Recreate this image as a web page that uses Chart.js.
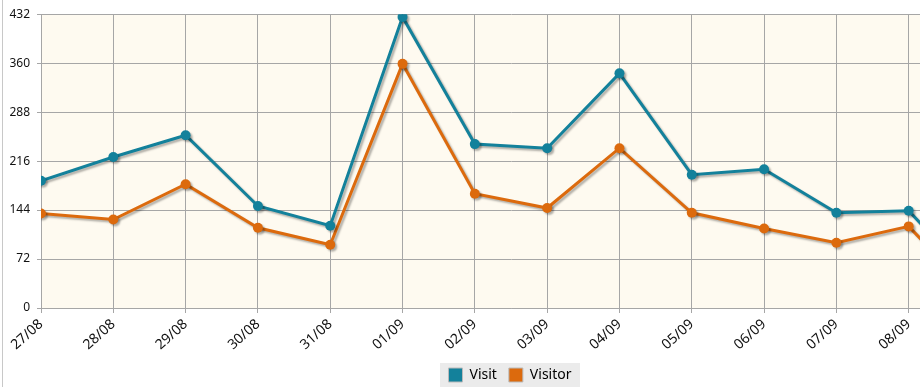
<!DOCTYPE html>
<html>
<head>
<meta charset="utf-8">
<script src="https://cdn.jsdelivr.net/npm/chart.js@4"></script>
<style>
    body { margin: 0; background: #fff; width: 920px; height: 387px; overflow: hidden; position: relative; }
    #edge { position: absolute; left: 2px; top: 0; width: 1px; height: 387px; background: #c8c8c8; }
    #wrap { position: absolute; left: 0; top: 0; width: 1020px; height: 392px; }
</style>
</head>
<body>
<div id="wrap"><canvas id="traffic-chart" width="1020" height="392"></canvas></div>
<div id="edge"></div>
<script>
// Chart data
const days = ['27/08', '28/08', '29/08', '30/08', '31/08', '01/09', '02/09',
              '03/09', '04/09', '05/09', '06/09', '07/09', '08/09', '09/09'];
const visits = [187, 222, 254, 150, 121, 428, 241, 235, 345, 196, 204, 140, 143, 29];
const visitors = [139, 130, 182, 118, 93, 359, 168, 147, 235, 140, 117, 96, 120, 9];
const yTicks = [0, 72, 144, 216, 288, 360, 432];

const VISIT_COLOR = '#13819b';
const VISITOR_COLOR = '#dc6a0d';
const FONT = '"Noto Sans", sans-serif';

// Cream plot background + grey legend panel
const backdrop = {
    id: 'backdrop',
    beforeDraw(chart) {
        const { ctx, chartArea: a } = chart;
        ctx.save();
        ctx.fillStyle = '#fefaf0';
        ctx.fillRect(a.left, a.top, a.right - a.left, a.bottom - a.top);
        ctx.fillStyle = '#ebebeb';
        ctx.fillRect(440, 363, 140, 30);
        ctx.restore();
    }
};

// Soft drop shadow under the lines
const shadow = {
    id: 'shadow',
    beforeDatasetsDraw(chart) {
        const ctx = chart.ctx;
        ctx.save();
        ctx.shadowColor = 'rgba(0, 0, 0, 0.3)';
        ctx.shadowOffsetX = 2;
        ctx.shadowOffsetY = 2;
        ctx.shadowBlur = 2;
    },
    afterDatasetsDraw(chart) {
        chart.ctx.restore();
    }
};

function initChart() {
    const ctx = document.getElementById('traffic-chart').getContext('2d');
    new Chart(ctx, {
        type: 'line',
        data: {
            labels: days,
            datasets: [
                {
                    label: 'Visit',
                    data: visits,
                    borderColor: VISIT_COLOR,
                    backgroundColor: VISIT_COLOR,
                    borderWidth: 3,
                    pointRadius: 5,
                    pointBorderWidth: 0,
                    tension: 0,
                    clip: 0
                },
                {
                    label: 'Visitor',
                    data: visitors,
                    borderColor: VISITOR_COLOR,
                    backgroundColor: VISITOR_COLOR,
                    borderWidth: 3,
                    pointRadius: 5,
                    pointBorderWidth: 0,
                    tension: 0,
                    clip: 0
                }
            ]
        },
        options: {
            responsive: false,
            animation: false,
            devicePixelRatio: 1,
            layout: { padding: { top: 9, left: 0, right: 0, bottom: 0 } },
            plugins: {
                tooltip: { enabled: false },
                legend: {
                    position: 'bottom',
                    labels: {
                        color: '#222',
                        font: { family: FONT, size: 14 },
                        boxWidth: 14,
                        boxHeight: 14,
                        padding: 12,
                        generateLabels(chart) {
                            return chart.data.datasets.map((ds, i) => ({
                                text: ds.label,
                                fillStyle: ds.borderColor,
                                strokeStyle: '#bbbbbb',
                                lineWidth: 1,
                                datasetIndex: i
                            }));
                        }
                    }
                }
            },
            scales: {
                x: {
                    offset: false,
                    grid: { color: '#a6a6a6', tickLength: 5, drawTicks: true },
                    border: { color: '#a6a6a6' },
                    ticks: {
                        color: '#111',
                        font: { family: FONT, size: 14 },
                        minRotation: 42,
                        maxRotation: 42,
                        padding: 3,
                        autoSkip: false
                    },
                    afterFit(scale) { scale.height = 48; }
                },
                y: {
                    min: 0,
                    max: 432,
                    afterBuildTicks(scale) { scale.ticks = yTicks.map(v => ({ value: v })); },
                    grid: { color: '#a6a6a6', tickLength: 4 },
                    border: { color: '#a6a6a6' },
                    ticks: {
                        color: '#111',
                        font: { family: FONT, size: 12 },
                        padding: 7
                    },
                    afterFit(scale) { scale.width = 41; }
                },
                // empty right-hand spacer so the last visible day lands at the crop edge
                spacer: {
                    type: 'linear',
                    position: 'right',
                    grid: { display: false },
                    border: { display: false },
                    ticks: { display: false },
                    afterFit(scale) { scale.width = 39; }
                }
            }
        },
        plugins: [backdrop, shadow]
    });
}

document.addEventListener('DOMContentLoaded', initChart);
</script>
</body>
</html>
